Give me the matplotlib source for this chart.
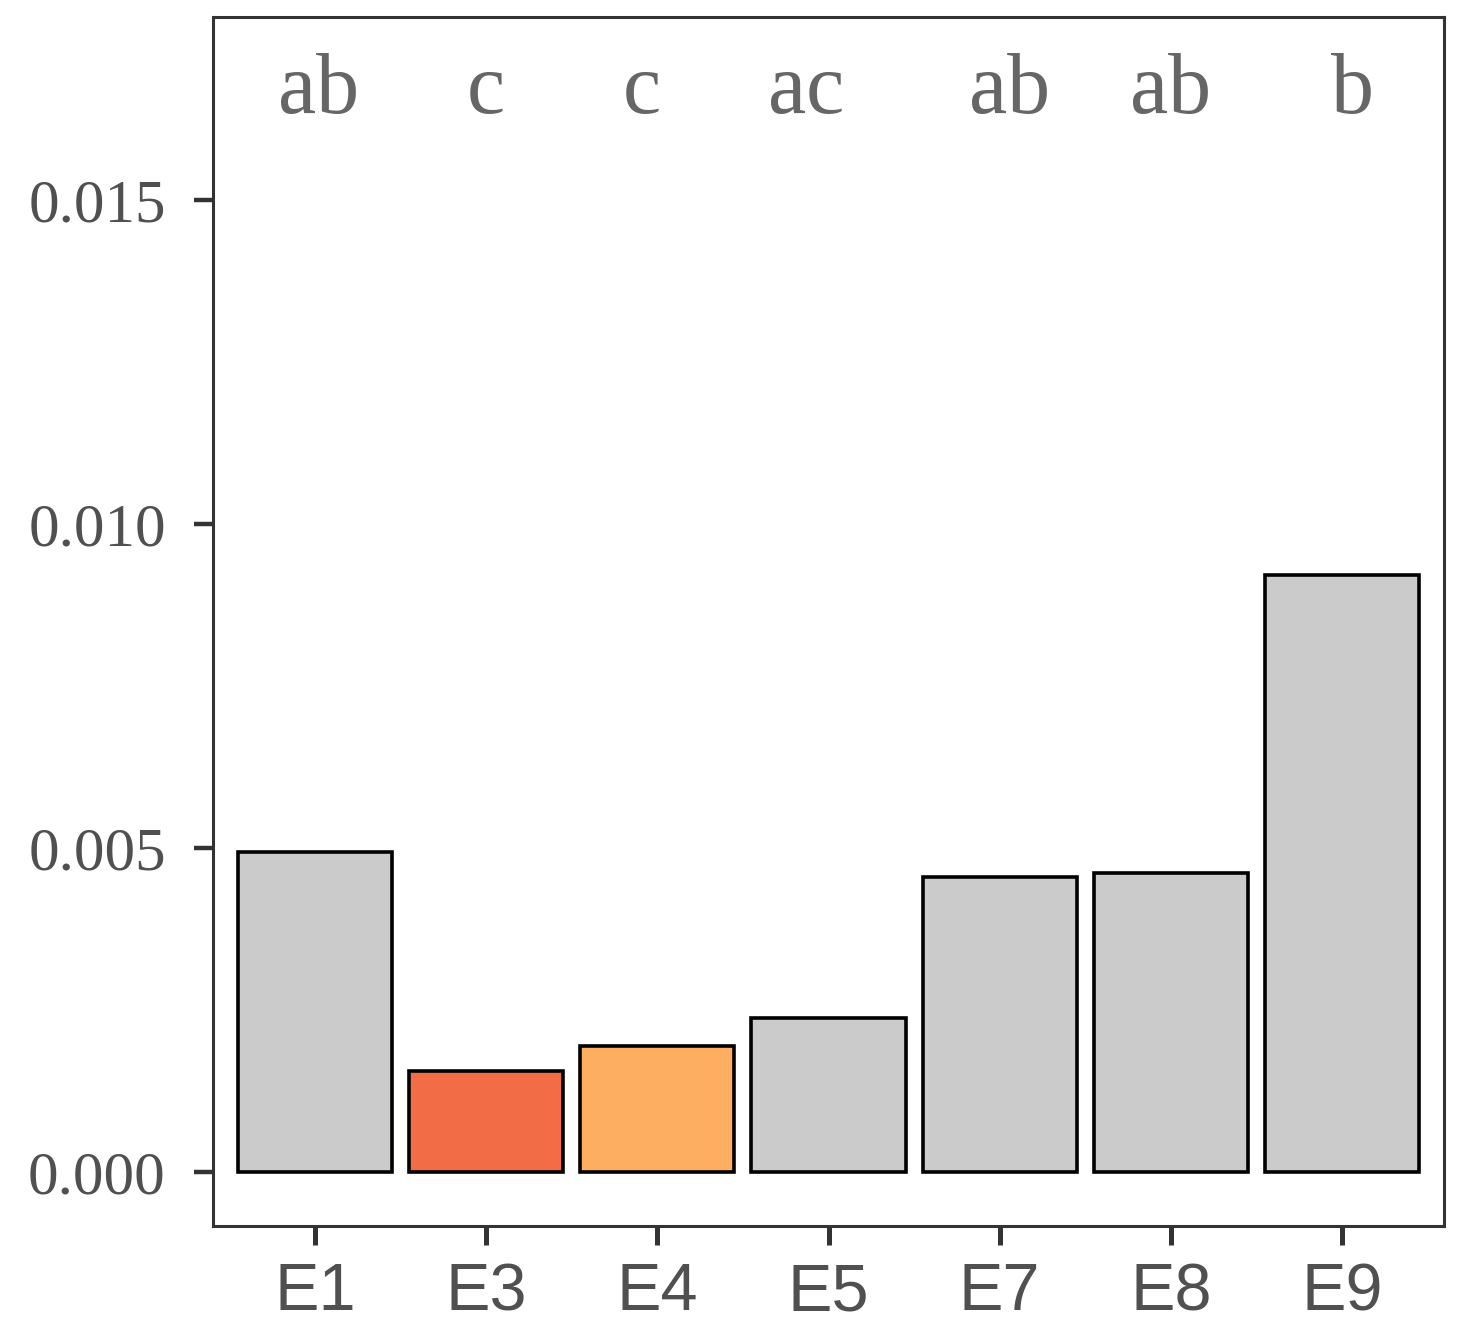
import matplotlib
matplotlib.use("Agg")
import matplotlib.pyplot as plt

categories = ["E1", "E3", "E4", "E5", "E7", "E8", "E9"]
values = [0.00494, 0.00156, 0.00194, 0.00238, 0.00455, 0.00461, 0.00921]
colors = ["#CBCBCB", "#F26C45", "#FDAE61", "#CBCBCB", "#CBCBCB", "#CBCBCB", "#CBCBCB"]
letters = ["ab", "c", "c", "ac", "ab", "ab", "b"]
letter_offsets = [0.02, 0.0, -0.09, -0.13, 0.06, 0.0, 0.06]
yticks = [0.000, 0.005, 0.010, 0.015]
ytick_labels = ["0.000", "0.005", "0.010", "0.015"]

DPI = 200
fig = plt.figure(figsize=(1469 / DPI, 1329 / DPI), dpi=DPI)
ax = fig.add_axes([213 / 1469, 1 - 1226 / 1329, (1444 - 213) / 1469, (1226 - 17) / 1329])

x = list(range(len(categories)))
ax.bar(x, values, width=0.9, color=colors, edgecolor="black", linewidth=1.3)

for xi, lab, off in zip(x, letters, letter_offsets):
    ax.text(xi + off, 0.01667, lab, ha="center", va="center",
            fontsize=31, color="#666666", family=["Liberation Serif", "DejaVu Serif"])

ax.set_xlim(-0.596, 6.596)
ax.set_ylim(-0.000833, 0.017824)
ax.set_xticks(x)
ax.set_xticklabels(categories, fontsize=24, color="#505050", family=["Liberation Sans", "DejaVu Sans"])
ax.set_yticks(yticks)
ax.set_yticklabels(ytick_labels, fontsize=22, color="#505050", family=["Liberation Serif", "DejaVu Serif"])

for s in ax.spines.values():
    s.set_color("#333333")
    s.set_linewidth(1.1)

ax.tick_params(axis="y", length=7, width=1.6, color="#333333", pad=10)
ax.tick_params(axis="x", length=7, width=1.8, color="#333333", pad=6)

fig.savefig("out.png", dpi=DPI, facecolor="white")
